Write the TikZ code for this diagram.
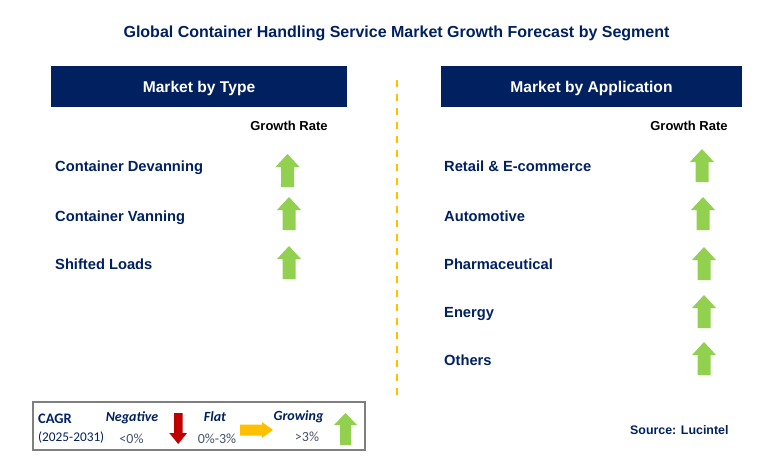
\documentclass[tikz,border=0pt]{standalone}
\usepackage{fontspec}
\setmainfont{Liberation Sans}
\newfontfamily\legendfont{Carlito}
\definecolor{navy}{HTML}{002060}
\definecolor{leafgreen}{HTML}{92D050}
\definecolor{darkred}{HTML}{C00000}
\definecolor{amber}{HTML}{FFC000}
\definecolor{slate}{HTML}{44546A}
\definecolor{frame}{HTML}{7F7F7F}
\tikzset{
  item/.style={anchor=base west, inner sep=0pt, text=navy, font=\fontsize{14.7}{16}\selectfont\bfseries},
  header/.style={fill=navy, text=white, inner sep=0pt, minimum height=41pt, text height=11pt, text depth=0pt, font=\fontsize{15.6}{17}\selectfont\bfseries},
  rate/.style={anchor=base, inner sep=0pt, font=\fontsize{13}{15}\selectfont\bfseries},
  legendlabel/.style={anchor=base, inner sep=0pt, text=navy, font=\legendfont\fontsize{14}{16}\selectfont\bfseries\itshape},
  legendvalue/.style={anchor=base, inner sep=0pt, text=slate, font=\legendfont\fontsize{14}{16}\selectfont},
  uparrow/.pic={\fill[leafgreen] (-6.5,16.5) -- (-6.5,-3.5) -- (-12,-3.5) -- (0,-16.5) -- (12,-3.5) -- (6.5,-3.5) -- (6.5,16.5) -- cycle;}
}
\begin{document}
\begin{tikzpicture}[x=1pt,y=-1pt]
\useasboundingbox (0,0) rectangle (762,461);
\node[anchor=base, inner sep=0pt, text=navy, font=\fontsize{16}{18}\selectfont\bfseries] (title) at (396.5,37) {Global Container Handling Service Market Growth Forecast by Segment};
% headers
\node[header, minimum width=296pt] (typehead) at (199,86.5) {Market by Type};
\node[header, minimum width=301pt] (apphead) at (591.5,86.5) {Market by Application};
\draw[amber, line width=2pt, dash pattern=on 7pt off 7pt] (396.7,80) -- (396.7,395);
\node[rate] (typerate) at (289,130) {Growth Rate};
\node[rate] (apprate) at (689,130) {Growth Rate};
% market by type
\node[item] (devanning) at (55,171) {Container Devanning};
\node[item] (vanning) at (55,221) {Container Vanning};
\node[item] (shifted) at (55,269) {Shifted Loads};
\pic at (287.5,170.5) {uparrow};
\pic at (289,213.5) {uparrow};
\pic at (289,262.5) {uparrow};
% market by application
\node[item] (retail) at (444,171) {Retail \& E-commerce};
\node[item] (automotive) at (444,221) {Automotive};
\node[item] (pharma) at (444,269) {Pharmaceutical};
\node[item] (energy) at (444,317) {Energy};
\node[item] (others) at (444,365) {Others};
\pic at (702,165.5) {uparrow};
\pic at (703,213.5) {uparrow};
\pic at (704,263.5) {uparrow};
\pic at (704,311.5) {uparrow};
\pic at (704,358.5) {uparrow};
% legend
\draw[frame, line width=1.2pt] (33,402) rectangle (365,450);
\node[anchor=base west, inner sep=0pt, text=navy, font=\legendfont\fontsize{14.5}{16}\selectfont\bfseries] (cagr) at (38,423) {CAGR};
\node[anchor=base west, inner sep=0pt, text=navy, font=\legendfont\fontsize{13.3}{15}\selectfont] (period) at (38,441) {(2025-2031)};
\node[legendlabel] (negative) at (132,421) {Negative};
\node[legendvalue] (negval) at (131.5,443) {<0\%};
\node[legendlabel] (flat) at (215,421) {Flat};
\node[legendvalue] (flatval) at (217,443) {0\%-3\%};
\node[legendlabel] (growing) at (298.5,420) {Growing};
\node[legendvalue] (growval) at (307,441) {>3\%};
\fill[darkred] (174,413) -- (182.5,413) -- (182.5,433) -- (187,433) -- (178.2,444) -- (169.3,433) -- (174,433) -- cycle;
\fill[amber] (240,424.5) -- (262,424.5) -- (262,422) -- (273,430) -- (262,438) -- (262,435.5) -- (240,435.5) -- cycle;
\fill[leafgreen] (340,445) -- (340,425) -- (334,425) -- (345.5,413) -- (357,425) -- (351,425) -- (351,445) -- cycle;
\node[anchor=base west, inner sep=0pt, text=navy, font=\fontsize{12.4}{14}\selectfont\bfseries] (source) at (630,434) {Source: Lucintel};
\end{tikzpicture}
\end{document}
